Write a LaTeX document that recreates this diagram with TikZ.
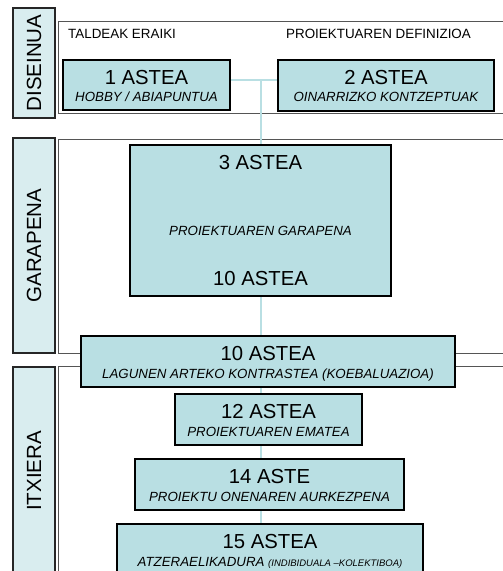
\documentclass[tikz,border=0pt]{standalone}
\usepackage{fontspec}
\setmainfont{Liberation Sans}
\definecolor{boxfill}{HTML}{B9DFE3}
\definecolor{sidefill}{HTML}{D9EDEF}
\definecolor{linkcol}{HTML}{B9DFE3}
\definecolor{panelline}{HTML}{555555}
\tikzset{
  stagebox/.style={draw=black, line width=1.6pt, fill=boxfill, inner sep=0pt},
  sidebox/.style={draw=black!85, line width=1.3pt, fill=sidefill, inner sep=0pt},
  panelbox/.style={draw=panelline, line width=0.9pt, fill=white},
  sidetext/.style={rotate=90, font=\fontsize{20.5}{22}\selectfont},
  titletext/.style={anchor=base, font=\fontsize{20.3}{22}\selectfont, inner sep=0pt},
  subtext/.style={anchor=base, font=\fontsize{13.3}{15}\selectfont\itshape, inner sep=0pt},
  headtext/.style={anchor=base west, font=\fontsize{13.4}{15}\selectfont, inner sep=0pt},
  link/.style={draw=linkcol, line width=2pt}
}
\begin{document}
\begin{tikzpicture}[x=1pt,y=-1pt]
\useasboundingbox (0,0) rectangle (503,571);
\clip (0,0) rectangle (503,571);
% panels
\draw[panelbox] (58,21) rectangle (530,113);
\draw[panelbox] (58,139) rectangle (530,353);
\draw[panelbox] (58,366) rectangle (530,600);
% side labels
\node[sidebox, minimum width=42pt, minimum height=110pt] (sdis) at (34,63) {};
\node[sidetext] at (sdis.center) {DISEINUA};
\node[sidebox, minimum width=42pt, minimum height=215pt] (sgar) at (34,245.5) {};
\node[sidetext] at (sgar.center) {GARAPENA};
\node[sidebox, minimum width=42pt, minimum height=233pt] (sitx) at (34,483.5) {};
\node[sidetext] at (34,471) {ITXIERA};
% headers
\node[headtext] (h1) at (68,38.5) {TALDEAK ERAIKI};
\node[headtext] (h2) at (286,38.5) {PROIEKTUAREN DEFINIZIOA};
% boxes (shapes only, for connector endpoints)
\coordinate (j) at (261,80);
\path (146.5,85) node[minimum width=167pt, minimum height=50pt] (b1) {};
\path (386,85.5) node[minimum width=216pt, minimum height=51pt] (b2) {};
\path (270,549.5) node[minimum width=306pt, minimum height=51pt] (b15) {};
% connectors
\draw[link] (b1.east |- j) -- (j) -- (b2.west |- j);
\draw[link] (j) -- (j |- b15.north);
% stage boxes
\node[stagebox, minimum width=167pt, minimum height=50pt] (b1) at (146.5,85) {};
\node[titletext] at ([yshift=-25pt]b1.north) {1 ASTEA};
\node[subtext] at ([yshift=-42pt]b1.north) {HOBBY / ABIAPUNTUA};

\node[stagebox, minimum width=216pt, minimum height=51pt] (b2) at (386,85.5) {};
\node[titletext] at ([yshift=-25pt]b2.north) {2 ASTEA};
\node[subtext] at ([yshift=-42pt]b2.north) {OINARRIZKO KONTZEPTUAK};

\node[stagebox, minimum width=261pt, minimum height=151pt] (b3) at (260.5,220.5) {};
\node[titletext] at ([yshift=-25.5pt]b3.north) {3 ASTEA};
\node[subtext] at ([yshift=-91.5pt]b3.north) {PROIEKTUAREN GARAPENA};
\node[titletext] at ([yshift=-141.5pt]b3.north) {10 ASTEA};

\node[stagebox, minimum width=374pt, minimum height=51pt] (b10) at (268,361.5) {};
\node[titletext] at ([yshift=-25.5pt]b10.north) {10 ASTEA};
\node[subtext] at ([yshift=-43pt]b10.north) {LAGUNEN ARTEKO KONTRASTEA (KOEBALUAZIOA)};

\node[stagebox, minimum width=187pt, minimum height=51pt] (b12) at (268.5,419.5) {};
\node[titletext] at ([yshift=-25.5pt]b12.north) {12 ASTEA};
\node[subtext] at ([yshift=-43pt]b12.north) {PROIEKTUAREN EMATEA};

\node[stagebox, minimum width=269pt, minimum height=51pt] (b14) at (269.5,484.5) {};
\node[titletext] at ([yshift=-25.5pt]b14.north) {14 ASTE};
\node[subtext] at ([yshift=-43pt]b14.north) {PROIEKTU ONENAREN AURKEZPENA};

\node[stagebox, minimum width=306pt, minimum height=51pt] (b15) at (270,549.5) {};
\node[titletext] at ([yshift=-25.5pt]b15.north) {15 ASTEA};
\node[subtext] at ([yshift=-43pt]b15.north) {ATZERAELIKADURA {\fontsize{9.5}{10}\selectfont (INDIBIDUALA –KOLEKTIBOA)}};
\end{tikzpicture}
\end{document}
